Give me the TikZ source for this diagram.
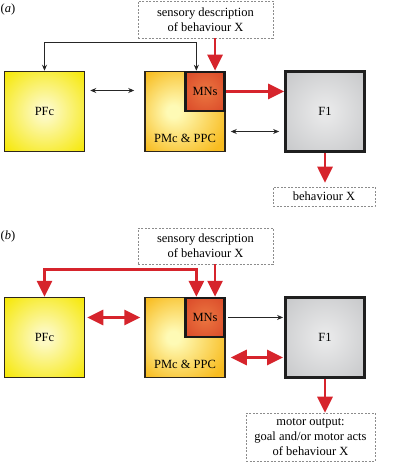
\documentclass[tikz,border=0pt]{standalone}
\usepackage{fontspec}
\setmainfont{Liberation Serif}
\usetikzlibrary{arrows.meta,positioning}
\definecolor{arrowred}{RGB}{214,36,44}
\definecolor{boxedge}{RGB}{45,38,28}
\definecolor{pfcyellow}{RGB}{246,232,10}
\definecolor{pmcgold}{RGB}{248,188,32}
\definecolor{mnsred}{RGB}{218,72,40}
\definecolor{fgrey}{RGB}{196,197,199}
\pgfdeclareradialshading{pfcglow}{\pgfpoint{0bp}{0bp}}{color(0bp)=(pfcyellow!25!white); color(4bp)=(pfcyellow!25!white); color(34bp)=(pfcyellow); color(50bp)=(pfcyellow)}
\pgfdeclareradialshading{pmcglow}{\pgfpoint{-8bp}{0bp}}{color(0bp)=(pmcgold!25!yellow!30!white); color(4bp)=(pmcgold!25!yellow!30!white); color(32bp)=(pmcgold); color(50bp)=(pmcgold)}
\pgfdeclareradialshading{mnsglow}{\pgfpoint{0bp}{0bp}}{color(0bp)=(mnsred!70!orange!85!white); color(4bp)=(mnsred!70!orange!85!white); color(36bp)=(mnsred); color(50bp)=(mnsred)}
\pgfdeclareradialshading{fglow}{\pgfpoint{0bp}{0bp}}{color(0bp)=(fgrey!40!white); color(4bp)=(fgrey!40!white); color(38bp)=(fgrey); color(50bp)=(fgrey)}

\begin{document}
\begin{tikzpicture}[x=1pt,y=-1pt,font=\fontsize{12.5}{15}\selectfont,
	area/.style={draw=boxedge,line width=1.5pt,minimum width=80pt,minimum height=80pt,inner sep=0pt},
	mns/.style={draw=black!90,line width=2.4pt,minimum width=39pt,minimum height=39pt,inner sep=0pt,shading=mnsglow},
	fone/.style={draw=black!88,line width=2.8pt,minimum width=79pt,minimum height=80pt,inner sep=0pt,shading=fglow},
	note/.style={draw=black!45,dash pattern=on 2pt off 1.5pt,line width=0.6pt,align=center,inner sep=0pt},
	redline/.style={draw=arrowred,line width=2.8pt,>={Triangle[length=16pt,width=15pt]}},
	thinline/.style={draw=black!85,line width=0.8pt,>={Stealth[length=6pt,width=5pt]}}]
	\useasboundingbox (0,0) rectangle (403,462);
	\node (labA) at (8,9) {(\textit{a})};
	\node[note,minimum width=135pt,minimum height=37pt] (senseA) at (205.5,19.5) {sensory description\\of behaviour X};
	\node[area,shading=pfcglow] (pfcA) at (44.5,111.5) {PFc};
	\node[area,shading=pmcglow] (pmcA) at (185,111.5) {};
	\node[above=6pt of pmcA.south] (ppcA) {PMc \& PPC};
	\node[mns,anchor=north east] (mnsA) at (pmcA.north east) {MNs};
	\node[fone] (fA) at (325,111.5) {F1};
	\node[note,minimum width=102pt,minimum height=19pt] (behA) at (324,196.5) {behaviour X};
	\coordinate (inA) at ([xshift=10pt]mnsA.north);
	\coordinate (loopA) at ([xshift=12pt]mnsA.north west);
	\draw[thinline,<->] (pfcA.north) |- ++(0,-28) -| (loopA);
	\draw[redline,->] (senseA.south -| inA) -- (inA);
	\draw[thinline,<->] ([xshift=5pt,yshift=21pt]pfcA.east) -- ([xshift=-10pt,yshift=21pt]pmcA.west);
	\draw[redline,->] (mnsA.east) -- (mnsA.east -| fA.west);
	\draw[thinline,<->] ([xshift=5pt,yshift=-20pt]pmcA.east) -- ([xshift=-5pt,yshift=-20pt]fA.west);
	\draw[redline,->] (fA.south) -- ([yshift=4pt]fA.south |- behA.north);

	\node (labB) at (8,236) {(\textit{b})};
	\node[note,minimum width=135pt,minimum height=36pt] (senseB) at (205.5,246) {sensory description\\of behaviour X};
	\node[area,shading=pfcglow] (pfcB) at (44.5,337.5) {PFc};
	\node[area,shading=pmcglow] (pmcB) at (185,337.5) {};
	\node[above=6pt of pmcB.south] (ppcB) {PMc \& PPC};
	\node[mns,anchor=north east] (mnsB) at (pmcB.north east) {MNs};
	\node[fone] (fB) at (325,337.5) {F1};
	\node[note,minimum width=129pt,minimum height=48pt] (motorB) at (310.5,437) {motor output:\\goal and/or motor acts\\of behaviour X};
	\coordinate (inB) at ([xshift=10pt]mnsB.north);
	\coordinate (loopB) at ([xshift=12pt]mnsB.north west);
	\draw[redline,<->] (pfcB.north) |- ++(0,-27) -| (loopB);
	\draw[redline,->] (senseB.south -| inB) -- (inB);
	\draw[redline,<->] ([xshift=2pt,yshift=20pt]pfcB.east) -- ([xshift=-4pt,yshift=20pt]pmcB.west);
	\draw[thinline,->] ([xshift=2pt]mnsB.east) -- ([xshift=-1pt]mnsB.east -| fB.west);
	\draw[redline,<->] ([xshift=5pt,yshift=-20pt]pmcB.east) -- ([xshift=-1pt,yshift=-20pt]fB.west);
	\draw[redline,->] (fB.south) -- (fB.south |- motorB.north);
\end{tikzpicture}
\end{document}
